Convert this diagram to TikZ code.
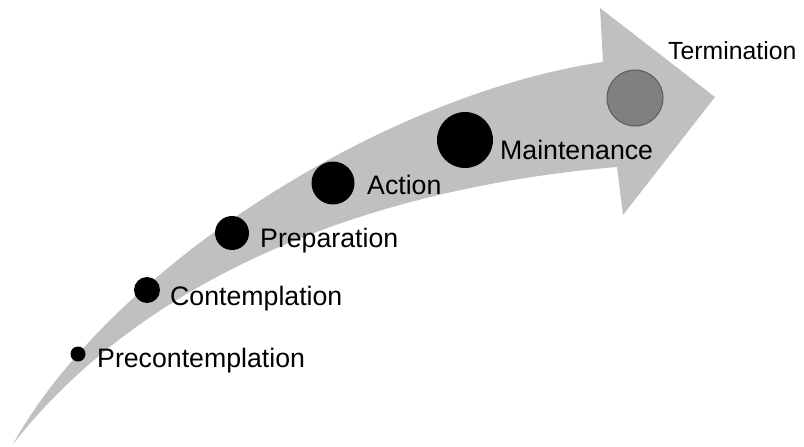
\documentclass[tikz,border=0pt]{standalone}
\usepackage{fontspec}
\setmainfont{Liberation Sans}
\definecolor{arrowgray}{RGB}{192,192,192}
\definecolor{endgray}{RGB}{128,128,128}
\definecolor{endline}{RGB}{90,90,90}
\tikzset{
    stage/.style={circle,fill=black,inner sep=0pt},
    stagelabel/.style={anchor=base west,inner sep=0pt,font=\fontsize{26.7pt}{32pt}\selectfont}
}
\begin{document}
\begin{tikzpicture}[x=1pt,y=-1pt]
        \useasboundingbox (0,0) rectangle (804,447);
        % the curved arrow
        \fill[arrowgray] (13,444) .. controls (110,270) and (380,95) .. (603,62)
            -- (600,8) -- (715,97) -- (623,215) -- (617,167)
            .. controls (380,187) and (150,270) .. (13,444) -- cycle;
        % stages
        \node[stage,minimum size=15pt] (precon) at (78,354){};
        \node[stage,minimum size=26pt] (contem) at (147,290){};
        \node[stage,minimum size=34pt] (prep) at (232,233){};
        \node[stage,minimum size=43pt] (action) at (333,183){};
        \node[stage,minimum size=56pt] (maint) at (465,140){};
        \node[stage,minimum size=56pt,fill=endgray,draw=endline,line width=1pt] (term) at (635,98){};
        % labels
        \node[stagelabel] (preconlabel) at (97,367){Precontemplation};
        \node[stagelabel] (contemlabel) at (170,305){Contemplation};
        \node[stagelabel] (preplabel) at (260,247){Preparation};
        \node[stagelabel] (actionlabel) at (367,194){Action};
        \node[stagelabel] (maintlabel) at (500,159){Maintenance};
        \node[stagelabel,font=\fontsize{24.8pt}{30pt}\selectfont] (termlabel) at (668,59){Termination};
    \end{tikzpicture}
\end{document}
